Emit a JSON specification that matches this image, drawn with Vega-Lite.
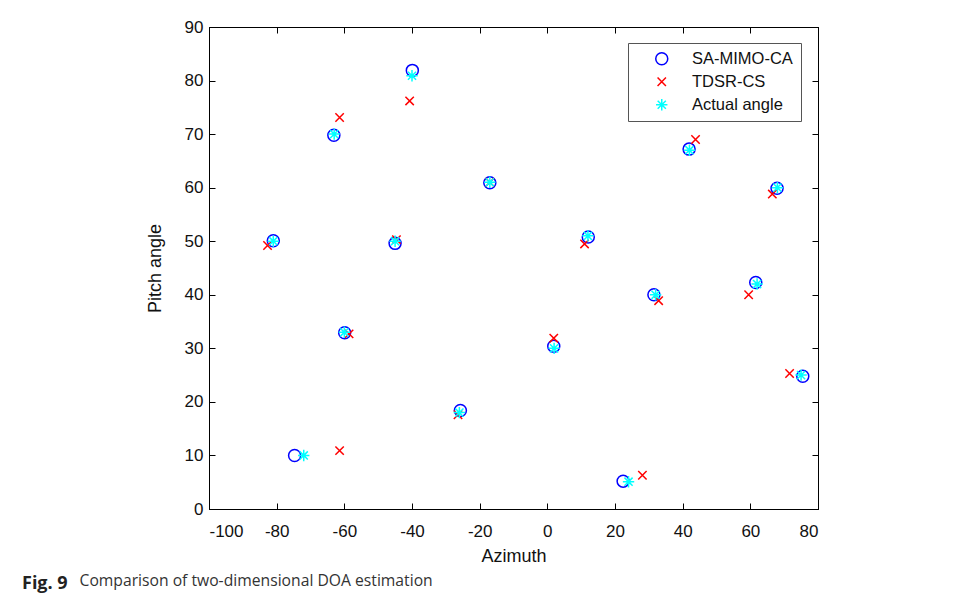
{
  "$schema": "https://vega.github.io/schema/vega-lite/v6.json",
  "width": 609,
  "height": 482,
  "autosize": "none",
  "padding": {"left": 209, "top": 27, "right": 139, "bottom": 95},
  "background": "white",
  "config": {
    "view": {"stroke": "black", "strokeWidth": 1},
    "font": "Liberation Sans",
    "axis": {"grid": false, "domainColor": "black", "tickColor": "black", "labelColor": "#111", "titleColor": "#111", "labelFont": "Liberation Sans", "titleFont": "Liberation Sans", "labelFontSize": 17, "titleFontSize": 18, "titleFontWeight": "normal", "tickSize": -6, "labelPadding": 14, "labelExpr": "replace(datum.label, '\u2212', '-')"}
  },
  "title": {
    "text": "Fig. 9",
    "subtitle": "\u200b\u2002\u2002\u2002\u2002\u2002\u2002\u2002\u2009Comparison of two-dimensional DOA estimation",
    "orient": "bottom",
    "anchor": "start",
    "frame": "group",
    "dx": -187,
    "offset": 10,
    "font": "Open Sans",
    "fontSize": 18,
    "fontWeight": "bold",
    "color": "#222",
    "subtitleFont": "Open Sans",
    "subtitleFontSize": 15.7,
    "subtitleFontWeight": "normal",
    "subtitleColor": "#333",
    "subtitlePadding": -19
  },
  "datasets": {
    "pts": [
      {"method": "SA-MIMO-CA", "az": -81.0, "pitch": 50.1},
      {"method": "SA-MIMO-CA", "az": -63.1, "pitch": 69.8},
      {"method": "SA-MIMO-CA", "az": -39.9, "pitch": 81.9},
      {"method": "SA-MIMO-CA", "az": -45.0, "pitch": 49.6},
      {"method": "SA-MIMO-CA", "az": -17.0, "pitch": 60.9},
      {"method": "SA-MIMO-CA", "az": 41.9, "pitch": 67.2},
      {"method": "SA-MIMO-CA", "az": 67.9, "pitch": 59.9},
      {"method": "SA-MIMO-CA", "az": 12.1, "pitch": 50.8},
      {"method": "SA-MIMO-CA", "az": -59.9, "pitch": 32.9},
      {"method": "SA-MIMO-CA", "az": -74.7, "pitch": 10.0},
      {"method": "SA-MIMO-CA", "az": -25.7, "pitch": 18.4},
      {"method": "SA-MIMO-CA", "az": 1.9, "pitch": 30.4},
      {"method": "SA-MIMO-CA", "az": 22.4, "pitch": 5.2},
      {"method": "SA-MIMO-CA", "az": 31.5, "pitch": 40.0},
      {"method": "SA-MIMO-CA", "az": 61.6, "pitch": 42.3},
      {"method": "SA-MIMO-CA", "az": 75.5, "pitch": 24.8},
      {"method": "TDSR-CS", "az": -82.7, "pitch": 49.2},
      {"method": "TDSR-CS", "az": -61.4, "pitch": 73.1},
      {"method": "TDSR-CS", "az": -40.7, "pitch": 76.2},
      {"method": "TDSR-CS", "az": -44.6, "pitch": 50.3},
      {"method": "TDSR-CS", "az": -17.0, "pitch": 61.0},
      {"method": "TDSR-CS", "az": 43.8, "pitch": 69.0},
      {"method": "TDSR-CS", "az": 66.5, "pitch": 58.8},
      {"method": "TDSR-CS", "az": 11.0, "pitch": 49.5},
      {"method": "TDSR-CS", "az": -58.6, "pitch": 32.7},
      {"method": "TDSR-CS", "az": -61.4, "pitch": 10.9},
      {"method": "TDSR-CS", "az": -26.4, "pitch": 17.6},
      {"method": "TDSR-CS", "az": 1.9, "pitch": 31.9},
      {"method": "TDSR-CS", "az": 28.1, "pitch": 6.3},
      {"method": "TDSR-CS", "az": 32.9, "pitch": 38.9},
      {"method": "TDSR-CS", "az": 59.5, "pitch": 40.0},
      {"method": "TDSR-CS", "az": 71.6, "pitch": 25.3},
      {"method": "Actual angle", "az": -81.0, "pitch": 50.0},
      {"method": "Actual angle", "az": -63.0, "pitch": 70.0},
      {"method": "Actual angle", "az": -40.0, "pitch": 80.9},
      {"method": "Actual angle", "az": -45.0, "pitch": 50.0},
      {"method": "Actual angle", "az": -17.0, "pitch": 61.0},
      {"method": "Actual angle", "az": 42.0, "pitch": 67.0},
      {"method": "Actual angle", "az": 68.0, "pitch": 60.0},
      {"method": "Actual angle", "az": 12.0, "pitch": 51.0},
      {"method": "Actual angle", "az": -60.0, "pitch": 33.0},
      {"method": "Actual angle", "az": -72.0, "pitch": 10.0},
      {"method": "Actual angle", "az": -26.0, "pitch": 18.0},
      {"method": "Actual angle", "az": 2.0, "pitch": 30.0},
      {"method": "Actual angle", "az": 24.0, "pitch": 5.1},
      {"method": "Actual angle", "az": 32.0, "pitch": 40.0},
      {"method": "Actual angle", "az": 62.0, "pitch": 42.0},
      {"method": "Actual angle", "az": 75.0, "pitch": 25.0}
    ]
  },
  "data": {"name": "pts"},
  "layer": [
    {
      "mark": {"type": "point", "filled": false, "size": 144, "strokeWidth": 1.5, "opacity": 1},
      "encoding": {
        "x": {"field": "az", "type": "quantitative", "scale": {"domain": [-100, 80], "nice": false, "zero": false}, "axis": {"title": "Azimuth", "values": [-100, -80, -60, -40, -20, 0, 20, 40, 60, 80], "labelPadding": 20, "titlePadding": 8}},
        "y": {"field": "pitch", "type": "quantitative", "scale": {"domain": [0, 90], "nice": false}, "axis": {"title": "Pitch angle", "values": [0, 10, 20, 30, 40, 50, 60, 70, 80, 90], "labelPadding": 12, "titlePadding": 20}},
        "color": {"field": "method", "type": "nominal", "scale": {"domain": ["SA-MIMO-CA", "TDSR-CS", "Actual angle"], "range": ["#0000ff", "#ff0000", "#00ffff"]},
          "legend": {"title": null, "orient": "none", "legendX": 419, "legendY": 16, "padding": 7.5, "strokeColor": "#555", "fillColor": "white", "labelFont": "Liberation Sans", "labelFontSize": 16.5, "labelColor": "#111", "symbolSize": 144, "symbolStrokeWidth": 1.5, "symbolOffset": 18, "labelOffset": 22, "rowPadding": 5, "symbolType": "circle"}},
        "shape": {"field": "method", "type": "nominal", "scale": {"domain": ["SA-MIMO-CA", "TDSR-CS", "Actual angle"], "range": ["circle", "M-0.7,-0.7L0.7,0.7M-0.7,0.7L0.7,-0.7", "M-0.95,0L0.95,0M0,-0.95L0,0.95M-0.68,-0.68L0.68,0.68M-0.68,0.68L0.68,-0.68"]}, "legend": null}
      }
    },
    {
      "mark": {"type": "point", "opacity": 0},
      "encoding": {
        "x": {"field": "az", "type": "quantitative", "axis": {"orient": "top", "labels": false, "title": null, "values": [-100, -80, -60, -40, -20, 0, 20, 40, 60, 80]}},
        "y": {"field": "pitch", "type": "quantitative", "axis": {"orient": "right", "labels": false, "title": null, "values": [0, 10, 20, 30, 40, 50, 60, 70, 80, 90]}}
      }
    }
  ],
  "resolve": {"axis": {"x": "independent", "y": "independent"}}
}
